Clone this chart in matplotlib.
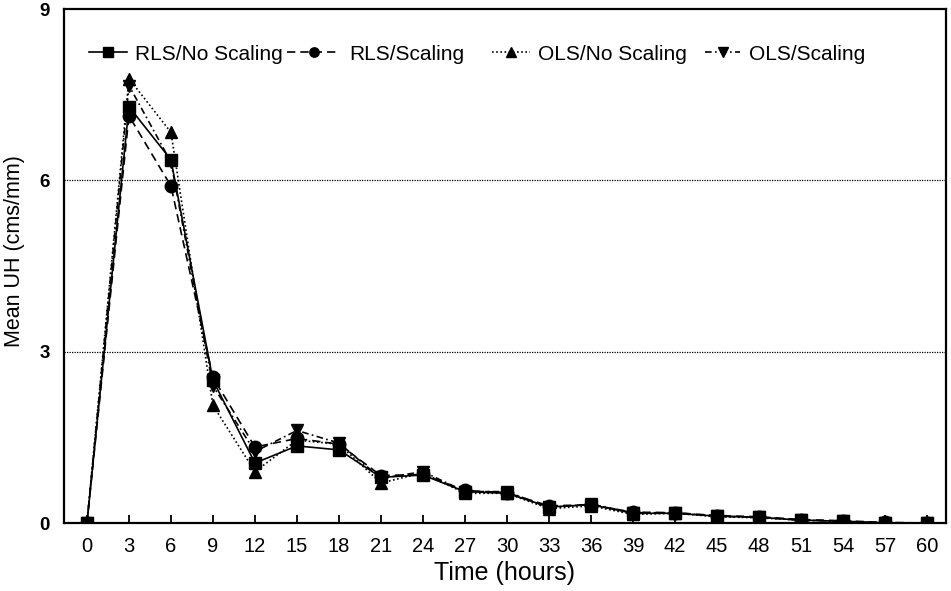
import matplotlib
matplotlib.use("Agg")
import matplotlib.pyplot as plt

plt.rcParams['font.family'] = ['Liberation Sans', 'DejaVu Sans']

time_h = [0, 3, 6, 9, 12, 15, 18, 21, 24, 27, 30, 33, 36, 39, 42, 45, 48, 51, 54, 57, 60]
rls_no_scaling = [0, 7.29, 6.36, 2.50, 1.05, 1.35, 1.28, 0.80, 0.84, 0.55, 0.52, 0.28, 0.32, 0.17, 0.17, 0.12, 0.10, 0.05, 0.03, 0.0, 0.0]
rls_scaling    = [0, 7.13, 5.90, 2.55, 1.33, 1.48, 1.38, 0.83, 0.85, 0.57, 0.53, 0.30, 0.32, 0.19, 0.18, 0.13, 0.11, 0.06, 0.04, 0.01, 0.0]
ols_no_scaling = [0, 7.78, 6.84, 2.06, 0.90, 1.45, 1.38, 0.70, 0.88, 0.52, 0.52, 0.25, 0.30, 0.15, 0.17, 0.11, 0.09, 0.05, 0.03, 0.0, 0.0]
ols_scaling    = [0, 7.66, 6.32, 2.40, 1.25, 1.62, 1.40, 0.78, 0.90, 0.55, 0.55, 0.27, 0.33, 0.18, 0.18, 0.12, 0.10, 0.05, 0.03, 0.0, 0.0]
series_labels = ["RLS/No Scaling", "RLS/Scaling", "OLS/No Scaling", "OLS/Scaling"]
x_ticks = list(range(0, 61, 3))
y_ticks = [0, 3, 6, 9]

W, H = 951, 591
fig = plt.figure(figsize=(W / 100, H / 100), dpi=100)
ax = fig.add_axes([64 / W, (H - 523) / H, (946 - 64) / W, (523 - 9) / H])

styles = [
    dict(ls='-', marker='s', ms=9),
    dict(ls=(0, (5, 3)), marker='o', ms=9),
    dict(ls=(0, (1, 1.5)), marker='^', ms=9),
    dict(ls=(0, (4, 2, 1, 2)), marker='v', ms=9),
]
data = [rls_no_scaling, rls_scaling, ols_no_scaling, ols_scaling]
order = [2, 3, 0, 1]
lines = {}
for i in order:
    ln, = ax.plot(time_h, data[i], color='black', lw=1.2, label=series_labels[i],
                  markeredgecolor='black', markerfacecolor='black', zorder=3 + i, **styles[i])
    lines[i] = ln

ax.set_xlim(-1.64, 61.36)
ax.set_ylim(0, 9)
ax.set_xticks(x_ticks)
ax.set_yticks(y_ticks)
ax.tick_params(axis='x', direction='in', length=6, width=1.3, labelsize=14.5, pad=10)
ax.tick_params(axis='y', length=0, labelsize=13.5, pad=10)
for lab in ax.get_yticklabels():
    lab.set_fontweight('bold')
for s in ax.spines.values():
    s.set_linewidth(1.6)

for yv in [3, 6]:
    ax.axhline(yv, color='black', lw=0.9, ls=(0, (1, 1)), zorder=1)

ax.set_xlabel("Time (hours)", fontsize=18, labelpad=4)
ax.set_ylabel("Mean UH (cms/mm)", fontsize=15.5)
ax.yaxis.set_label_coords(-0.044, 0.529)

# legend entries placed individually (start pixel of handle, handle length in em)
leg_x = [89, 287, 492, 705]
leg_hl = [1.8, 2.55, 1.8, 1.7]
leg_y = (H - 54) / H
for i in range(4):
    fig.legend(handles=[lines[i]], loc='center left', bbox_to_anchor=(leg_x[i] / W, leg_y),
               frameon=False, fontsize=15, handlelength=leg_hl[i], handletextpad=0.43,
               borderpad=0, borderaxespad=0, markerscale=0.75)

fig.savefig("out.png", dpi=100)
